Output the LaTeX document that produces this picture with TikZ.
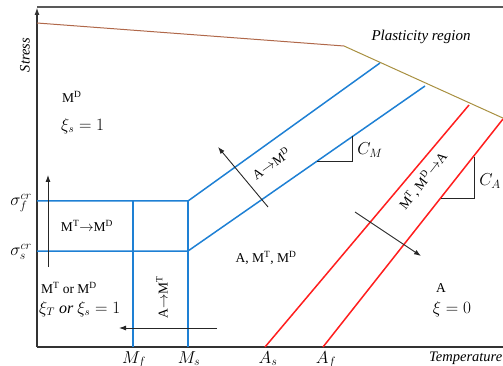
\documentclass[tikz,border=0pt]{standalone}
\usepackage{fontspec}
\setmainfont{Liberation Serif}
\usetikzlibrary{arrows.meta}
\definecolor{myblue}{HTML}{1E80D4}
\definecolor{myred}{HTML}{FF1E1E}
\definecolor{mybrown}{HTML}{B0684A}
\definecolor{myolive}{HTML}{A89040}
\definecolor{axisgray}{HTML}{333333}
\begin{document}
\begin{tikzpicture}[x=1pt,y=-1pt,
  axis/.style={draw=axisgray,line width=1.6pt},
  blueline/.style={draw=myblue,line width=1.5pt},
  redline/.style={draw=myred,line width=1.5pt},
  arr/.style={draw=black!85,line width=0.9pt,-{Latex[length=7pt,width=5pt]}},
  tri/.style={draw=black!85,line width=0.9pt},
  lbl/.style={font=\fontsize{13.5}{15}\selectfont,inner sep=0pt},
  mlbl/.style={font=\fontsize{16}{18}\selectfont,inner sep=0pt},
  axlbl/.style={font=\fontsize{17}{19}\selectfont,inner sep=0pt},
]
\useasboundingbox (0,0) rectangle (503,366);
\clip (0,0) rectangle (503,366);
% coordinates
\coordinate (O) at (37,347);
\coordinate (Ytop) at (37,7);
\coordinate (Xend) at (505,347);
\coordinate (Tend) at (505,7);
\coordinate (P0) at (37,23);
\coordinate (P1) at (344,46);
\coordinate (P2) at (505,119);
\coordinate (Sf0) at (37,201);
\coordinate (Sf1) at (188,201);
\coordinate (Ss0) at (37,251);
\coordinate (Ss1) at (188,251);
\coordinate (Mf0) at (133,347);
\coordinate (Mf1) at (133,201);
\coordinate (Ms0) at (188,347);
\coordinate (U1) at (380,63);
\coordinate (L1) at (425,86);
\coordinate (As0) at (265,347);
\coordinate (As1) at (469,105);
\coordinate (Af0) at (323,347);
\coordinate (Af1) at (503,119);
% frame & axes
\draw[draw=black!65,line width=1.3pt] (Ytop) -- (Tend);
\draw[axis] (O) -- (Xend);
\draw[axis,-{Latex[length=8pt,width=5pt]}] (O) -- (Ytop);
% plasticity boundary
\draw[draw=mybrown,line width=1pt] (P0) -- (P1);
\draw[draw=myolive,line width=1pt] (P1) -- (P2);
% blue lines
\draw[blueline] (Sf0) -- (Sf1) -- (U1);
\draw[blueline] (Ss0) -- (Ss1) -- (L1);
\draw[blueline] (Mf0) -- (Mf1);
\draw[blueline] (Ms0) -- (Sf1);
% red lines
\draw[redline] (As0) -- (As1);
\draw[redline] (Af0) -- (Af1);
% slope triangles
\coordinate (CM0) at (317,161);
\coordinate (CM1) at (352,161);
\coordinate (CM2) at (352,136);
\draw[tri] (CM0) -- (CM1) -- (CM2);
\coordinate (CA0) at (441,198);
\coordinate (CA1) at (474,198);
\coordinate (CA2) at (474,157);
\draw[tri] (CA0) -- (CA1) -- (CA2);
% arrows
\coordinate (a1s) at (268,207); \coordinate (a1e) at (218,147);
\draw[arr] (a1s) -- (a1e);
\coordinate (a2s) at (355,212); \coordinate (a2e) at (421,256);
\draw[arr] (a2s) -- (a2e);
\coordinate (a3s) at (48,267); \coordinate (a3e) at (48,175);
\draw[arr] (a3s) -- (a3e);
\coordinate (a4s) at (217,328); \coordinate (a4e) at (119,328);
\draw[arr] (a4s) -- (a4e);
% labels
\node[lbl,font=\fontsize{14.5}{16}\selectfont\itshape,rotate=90] (stress) at (25,55) {Stress};
\node[lbl,font=\fontsize{15}{17}\selectfont\itshape] (plast) at (421,37) {Plasticity region};
\node[lbl,anchor=west] (MD) at (62,97) {M\textsuperscript{D}};
\node[mlbl,anchor=west] (xis) at (61,126) {$\xi_s = 1$};
\node[axlbl] (sf) at (21,203) {$\sigma_f^{cr}$};
\node[axlbl] (ss) at (21,252) {$\sigma_s^{cr}$};
\node[lbl] (MTMD) at (87,226) {M\textsuperscript{T}$\to$M\textsuperscript{D}};
\node[lbl,anchor=west] (MTorMD) at (41,288) {M\textsuperscript{T} or M\textsuperscript{D}};
\node[mlbl,anchor=west] (xiTs) at (39,309) {$\xi_T$ \textit{or} $\xi_s = 1$};
\node[lbl,rotate=90] (AMT) at (162,297) {A$\to$M\textsuperscript{T}};
\node[lbl,rotate=35] (AMD) at (271,163) {A$\to$M\textsuperscript{D}};
\node[lbl,rotate=52] (MMA) at (423,181) {M\textsuperscript{T}, M\textsuperscript{D}$\to$A};
\node[axlbl] (CMl) at (370,150) {$C_M$};
\node[axlbl] (CAl) at (490,181) {$C_A$};
\node[lbl] (mix) at (266,258) {A, M\textsuperscript{T}, M\textsuperscript{D}};
\node[lbl] (Al) at (441,288) {A};
\node[mlbl] (xi0) at (452,309) {$\xi = 0$};
\node[axlbl,anchor=north] (Mfl) at (134,351) {$M_f$};
\node[axlbl,anchor=north] (Msl) at (189,351) {$M_s$};
\node[axlbl,anchor=north] (Asl) at (268,351) {$A_s$};
\node[axlbl,anchor=north] (Afl) at (326,351) {$A_f$};
\node[lbl,anchor=west,font=\fontsize{14.5}{16}\selectfont\itshape] (temp) at (429,358) {Temperature};
\end{tikzpicture}
\end{document}
